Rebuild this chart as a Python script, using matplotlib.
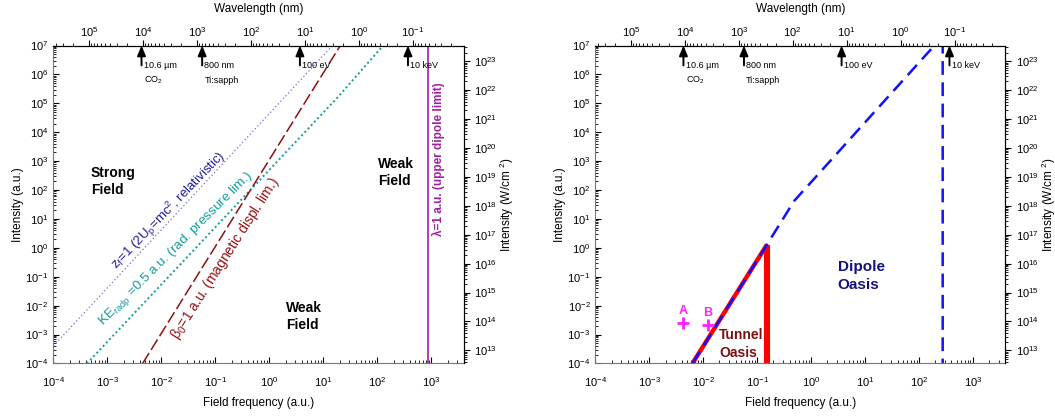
import numpy as np
import matplotlib
matplotlib.use('Agg')
import matplotlib.pyplot as plt
from matplotlib.ticker import LogLocator, NullFormatter

plt.rcParams['font.family'] = ['Liberation Sans', 'DejaVu Sans']
plt.rcParams['mathtext.default'] = 'regular'
plt.rcParams['axes.unicode_minus'] = False

AU_TO_NM = 45.56      # wavelength (nm) = 45.56 / omega (a.u.)
AU_TO_WCM2 = 3.51e16  # 1 a.u. of intensity in W/cm^2

### data
freq_lim = (1e-4, 4e3)
int_lim = (1e-4, 1e7)

# reference lasers / photon energies (wavelength in nm)
laser_nm = [10600., 800., 12.4, 0.124]
laser_lab1 = ['10.6 µm', '800 nm', '100 eV', '10 keV']
laser_lab2 = ['CO$_2$', 'Ti:sapph', '', '']

# left panel: boundaries (omega a.u., intensity a.u.)
rel_w = [1e-4, 14.8]
rel_I = [4.0e-4, 1e7]
radp_w = [4.2e-4, 18.3, 128.]
radp_I = [1e-4, 1.6e5, 1e7]
magn_w = [4.5e-3, 20.6]
magn_I = [1e-4, 1e7]
dipole_lim_w = 860.

# right panel: oasis boundaries
dip_w = [6.3e-3, 0.152, 0.485, 193., 275., 275.]
dip_I = [1e-4, 1.3, 42., 1e7, 1e7, 1e-4]
tun_w = [6.3e-3, 0.152]
tun_I = [1e-4, 1.3]
tun_edge_I = [1.3, 1e-4]

pts_lab = ['A', 'B']
pts_w = [4.25e-3, 0.0123]
pts_I = [2.46e-3, 2.15e-3]


def log_ticks(axis):
    axis.set_major_locator(LogLocator(base=10, numticks=40))
    axis.set_minor_locator(LogLocator(base=10, subs=np.arange(2, 10), numticks=40))
    axis.set_minor_formatter(NullFormatter())


def setup_axes(ax):
    ax.set_xscale('log')
    ax.set_yscale('log')
    ax.set_xlim(*freq_lim)
    ax.set_ylim(*int_lim)
    log_ticks(ax.xaxis)
    log_ticks(ax.yaxis)
    ax.tick_params(which='both', direction='in', top=False, right=False,
                   labelsize=8)
    ax.tick_params(axis='x', which='both', pad=8.5)
    ax.tick_params(which='major', length=4)
    ax.tick_params(which='minor', length=2)
    for s in ['left', 'bottom']:
        ax.spines[s].set_color('#777777')
    ax.set_xlabel('Field frequency (a.u.)', fontsize=8.5, labelpad=6)
    ax.set_ylabel('Intensity (a.u.)', fontsize=8.5, labelpad=1)

    # wavelength axis on top
    top = ax.twiny()
    top.set_xscale('log')
    top.set_xlim(AU_TO_NM / freq_lim[0], AU_TO_NM / freq_lim[1])
    log_ticks(top.xaxis)
    top.tick_params(which='both', labelsize=8, pad=1)
    top.tick_params(which='major', length=4)
    top.tick_params(which='minor', length=2)
    top.set_xlabel('Wavelength (nm)', fontsize=8.5, labelpad=9.5)
    for s in ['left', 'bottom', 'right']:
        top.spines[s].set_visible(False)

    # intensity in W/cm2 on the right
    right = ax.twinx()
    right.set_yscale('log')
    right.set_ylim(int_lim[0] * AU_TO_WCM2, int_lim[1] * AU_TO_WCM2)
    log_ticks(right.yaxis)
    right.tick_params(which='both', labelsize=8)
    right.tick_params(which='major', length=4)
    right.tick_params(which='minor', length=2)
    right.set_ylabel('Intensity (W/cm $^2$)', fontsize=8.5, labelpad=0.5)
    for s in ['left', 'bottom', 'top']:
        right.spines[s].set_visible(False)

    # laser markers along the top
    for nm, l1, l2 in zip(laser_nm, laser_lab1, laser_lab2):
        w = AU_TO_NM / nm
        ax.annotate('', xy=(w, 1e7), xytext=(w, 2.05e6),
                    arrowprops=dict(arrowstyle='-|>,head_length=0.6,head_width=0.25',
                                    lw=1.4, color='k', shrinkA=0, shrinkB=0),
                    annotation_clip=False)
        ax.text(w * 1.1, 2.1e6, l1, fontsize=6.5, va='center', ha='left')
        if l2:
            ax.text(w * 1.1, 6.2e5, l2, fontsize=6.5, va='center', ha='left')


fig = plt.figure(figsize=(10.55, 4.19), dpi=100, facecolor='w')
ax1 = fig.add_axes([0.0505, 0.1325, 0.3893, 0.7589])
ax2 = fig.add_axes([0.5643, 0.1325, 0.3887, 0.7589])
setup_axes(ax1)
setup_axes(ax2)

### left panel
ax1.plot(rel_w, rel_I, color='#6a6ae6', lw=0.9, ls=(0, (1, 2)))
ax1.plot(radp_w, radp_I, color='#109c9c', lw=1.4, ls=(0, (1, 1.4)))
ax1.plot(magn_w, magn_I, color='#8f1010', lw=1.1, dashes=(8, 2.5))
ax1.axvline(dipole_lim_w, color='#a020a0', lw=1.2)

ax1.text(0.0138, 20., r'z$_f$=1 (2U$_p$=mc$^2$, relativistic)', color='#1c1c9a',
         fontsize=9.5, rotation=46, rotation_mode='anchor', ha='center', va='center')
ax1.text(0.01845, 0.94, r'KE$_{radp}$ =0.5 a.u. (rad. pressure lim.)', color='#139c9c',
         fontsize=9.7, rotation=45, rotation_mode='anchor', ha='center', va='center')
ax1.text(0.15, 0.42, r'$\beta_0$=1 a.u. (magnetic displ. lim.)', color='#9a1010',
         fontsize=10, rotation=57.5, rotation_mode='anchor', ha='center', va='center')
ax1.text(1365., 1.2e3, 'λ=1 a.u. (upper dipole limit)', color='#a020a0',
         fontsize=8.5, weight='bold', rotation=90, ha='center', va='center')

ax1.text(5.0e-4, 200., 'Strong\nField', fontsize=10, weight='bold',
         ha='left', va='center', multialignment='left', linespacing=1.3)
ax1.text(103., 400., 'Weak\nField', fontsize=10, weight='bold',
         ha='left', va='center', multialignment='left', linespacing=1.3)
ax1.text(2.02, 4.2e-3, 'Weak\nField', fontsize=10, weight='bold',
         ha='left', va='center', multialignment='left', linespacing=1.3)

### right panel
ax2.plot(tun_w, tun_I, color='#ff0000', lw=3.2, solid_capstyle='butt')
ax2.plot([tun_w[-1]] * 2, tun_edge_I, color='#ff0000', lw=4.4, solid_capstyle='butt')
ax2.plot(dip_w, dip_I, color='#1010ff', lw=1.8, dashes=(5.5, 3))

ax2.plot(pts_w, pts_I, ls='none', marker='+', ms=9, mew=2, color='#ff20ff')
for lab, w, i in zip(pts_lab, pts_w, pts_I):
    ax2.text(w, i * 2.6, lab, color='#ff20ff', fontsize=9, weight='bold',
             ha='center', va='center')

ax2.text(0.0197, 4.7e-4, 'Tunnel\nOasis', color='#7a1010', fontsize=10,
         weight='bold', ha='left', va='center', multialignment='left', linespacing=1.3)
ax2.text(3.1, 0.105, 'Dipole\nOasis', color='#12127e', fontsize=11,
         weight='bold', ha='left', va='center', multialignment='left', linespacing=1.3)

fig.savefig('out.png', dpi=100)
